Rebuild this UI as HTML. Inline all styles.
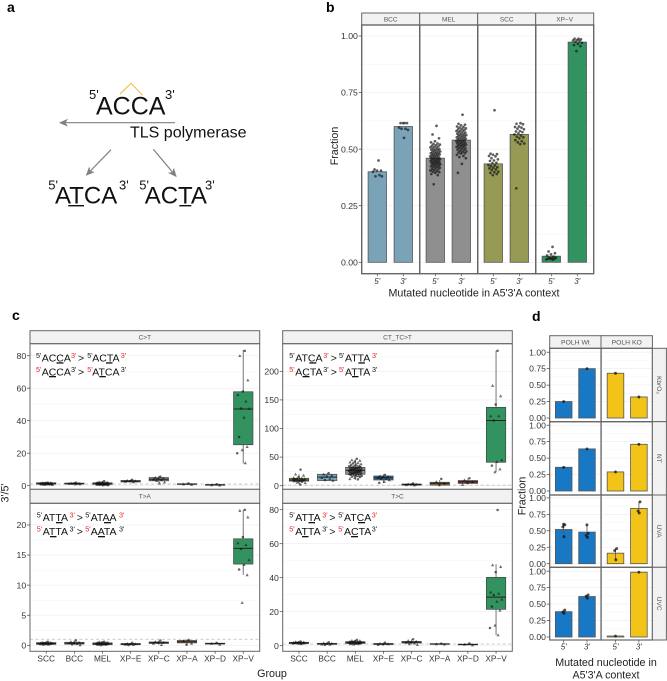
<!DOCTYPE html>
<html lang="en">
<head>
<meta charset="utf-8">
<title>TLS polymerase strand asymmetry figure</title>
<style>
html,body{margin:0;padding:0;background:#fff}
svg{display:block;filter:blur(.35px)}
text{font-family:"Liberation Sans",Arial,sans-serif;fill:#111}
.plabel{font-size:14px;font-weight:bold;fill:#000}
.title{font-size:10.7px;fill:#222}
.an{font-size:10.5px;fill:#111}
.an .s{font-size:7.2px}
.an .r{fill:#e0262e}
.seq{fill:#111}
.sup{font-size:13px}
</style>
</head>
<body>
<svg id="fig" xmlns="http://www.w3.org/2000/svg" width="667" height="681" viewBox="0 0 667 681">
  <defs>
    <marker id="ah" markerWidth="10" markerHeight="8" refX="8" refY="4" orient="auto" markerUnits="userSpaceOnUse"><path d="M0,0 L9,4 L0,8 L2.5,4 Z" fill="#808080"/></marker>
  </defs>
  <rect width="667" height="681" fill="#fff"/>

  <text class="plabel" x="7" y="12">a</text>
  <text class="plabel" x="326" y="12">b</text>
  <text class="plabel" x="12" y="320">c</text>
  <text class="plabel" x="532" y="321">d</text>

  <g>
    <polyline points="120,94 131,83.3 142.7,95.3" fill="none" stroke="#f2b632" stroke-width="1"/>
    <text class="sup" x="89" y="99">5'</text>
    <text class="seq" x="96" y="114.7" font-size="25">ACCA</text>
    <text class="sup" x="165" y="99">3'</text>
    <line x1="175" y1="122.7" x2="60" y2="122.7" stroke="#808080" stroke-width="1.2" marker-end="url(#ah)"/>
    <text x="130" y="137.3" font-size="16">TLS polymerase</text>
    <line x1="111" y1="149.7" x2="86.5" y2="175" stroke="#808080" stroke-width="1.2" marker-end="url(#ah)"/>
    <line x1="153.3" y1="149.3" x2="176" y2="176.3" stroke="#808080" stroke-width="1.2" marker-end="url(#ah)"/>
    <text class="sup" x="48.3" y="189.3">5'</text>
    <text class="seq" x="55" y="203.3" font-size="24">ATCA</text>
    <text class="sup" x="119" y="189.3">3'</text>
    <rect x="68.3" y="205" width="15.7" height="1.4" fill="#111"/>
    <text class="sup" x="139.3" y="189.3">5'</text>
    <text class="seq" x="144.7" y="203.3" font-size="24">ACTA</text>
    <text class="sup" x="205" y="189.3">3'</text>
    <rect x="179.3" y="205" width="12" height="1.4" fill="#111"/>
  </g>

  <g id="chart-b"></g>
  <g id="chart-c"></g>
  <g id="chart-d"></g>

  <g>
    <text class="an" y="361.7"><tspan class="s" x="36" dy="-3.5">5'</tspan><tspan x="41.7" dy="3.5">ACCA</tspan><tspan class="s r" x="71" dy="-3.5">3'</tspan><tspan x="78" dy="3.5">&gt;</tspan><tspan class="s" x="87.3" dy="-3.5">5'</tspan><tspan x="92.3" dy="3.5">ACTA</tspan><tspan class="s r" x="120.7" dy="-3.5">3'</tspan></text>
    <text class="an" y="375.3"><tspan class="s r" x="36" dy="-3.5">5'</tspan><tspan x="41.7" dy="3.5">ACCA</tspan><tspan class="s" x="71" dy="-3.5">3'</tspan><tspan x="78" dy="3.5">&gt;</tspan><tspan class="s r" x="87.3" dy="-3.5">5'</tspan><tspan x="92.3" dy="3.5">ATCA</tspan><tspan class="s" x="120.7" dy="-3.5">3'</tspan></text>
    <rect x="56.5" y="362.3" width="7" height="1.3" fill="#111"/>
    <rect x="106" y="362.3" width="6.5" height="1.3" fill="#111"/>
    <rect x="49" y="376" width="7" height="1.3" fill="#111"/>
    <rect x="99.3" y="376" width="6.5" height="1.3" fill="#111"/>
  </g>
  <g>
    <text class="an" y="361.7"><tspan class="s" x="289.3" dy="-3.5">5'</tspan><tspan x="295.3" dy="3.5">ATCA</tspan><tspan class="s r" x="323.3" dy="-3.5">3'</tspan><tspan x="330.7" dy="3.5">&gt;</tspan><tspan class="s" x="339" dy="-3.5">5'</tspan><tspan x="345" dy="3.5">ATTA</tspan><tspan class="s r" x="372" dy="-3.5">3'</tspan></text>
    <text class="an" y="375.3"><tspan class="s r" x="289.3" dy="-3.5">5'</tspan><tspan x="295.3" dy="3.5">ACTA</tspan><tspan class="s" x="323.3" dy="-3.5">3'</tspan><tspan x="330.7" dy="3.5">&gt;</tspan><tspan class="s r" x="339" dy="-3.5">5'</tspan><tspan x="345" dy="3.5">ATTA</tspan><tspan class="s" x="372" dy="-3.5">3'</tspan></text>
    <rect x="309.3" y="362.3" width="7" height="1.3" fill="#111"/>
    <rect x="358.4" y="362.3" width="6.5" height="1.3" fill="#111"/>
    <rect x="302.5" y="376" width="7" height="1.3" fill="#111"/>
    <rect x="352" y="376" width="6.5" height="1.3" fill="#111"/>
  </g>
  <g>
    <text class="an" y="521"><tspan class="s" x="36.7" dy="-3.5">5'</tspan><tspan x="42.7" dy="3.5">ATTA</tspan><tspan class="s r" x="69.5" dy="-3.5">3'</tspan><tspan x="76.7" dy="3.5">&gt;</tspan><tspan class="s" x="85.3" dy="-3.5">5'</tspan><tspan x="90.7" dy="3.5">ATAA</tspan><tspan class="s r" x="119" dy="-3.5">3'</tspan></text>
    <text class="an" y="535"><tspan class="s r" x="36.7" dy="-3.5">5'</tspan><tspan x="42.7" dy="3.5">ATTA</tspan><tspan class="s" x="69.5" dy="-3.5">3'</tspan><tspan x="76.7" dy="3.5">&gt;</tspan><tspan class="s r" x="85.3" dy="-3.5">5'</tspan><tspan x="90.7" dy="3.5">AATA</tspan><tspan class="s" x="119" dy="-3.5">3'</tspan></text>
    <rect x="56" y="522" width="6.5" height="1.3" fill="#111"/>
    <rect x="104" y="522" width="7" height="1.3" fill="#111"/>
    <rect x="50" y="536" width="6.5" height="1.3" fill="#111"/>
    <rect x="98" y="536" width="7" height="1.3" fill="#111"/>
  </g>
  <g>
    <text class="an" y="521"><tspan class="s" x="289.3" dy="-3.5">5'</tspan><tspan x="295.3" dy="3.5">ATTA</tspan><tspan class="s r" x="322.3" dy="-3.5">3'</tspan><tspan x="329.3" dy="3.5">&gt;</tspan><tspan class="s" x="338.3" dy="-3.5">5'</tspan><tspan x="344" dy="3.5">ATCA</tspan><tspan class="s r" x="371.7" dy="-3.5">3'</tspan></text>
    <text class="an" y="535"><tspan class="s r" x="289.3" dy="-3.5">5'</tspan><tspan x="295.3" dy="3.5">ATTA</tspan><tspan class="s" x="322.3" dy="-3.5">3'</tspan><tspan x="329.3" dy="3.5">&gt;</tspan><tspan class="s r" x="338.3" dy="-3.5">5'</tspan><tspan x="344" dy="3.5">ACTA</tspan><tspan class="s" x="371.7" dy="-3.5">3'</tspan></text>
    <rect x="308.5" y="522" width="6.5" height="1.3" fill="#111"/>
    <rect x="358" y="522" width="7" height="1.3" fill="#111"/>
    <rect x="302" y="536" width="6.5" height="1.3" fill="#111"/>
    <rect x="351" y="536" width="7" height="1.3" fill="#111"/>
  </g>

  <text class="title" transform="translate(338,146) rotate(-90)" text-anchor="middle">Fraction</text>
  <text class="title" x="474" y="296.7" text-anchor="middle">Mutated nucleotide in A5'3'A context</text>
  <text class="title" transform="translate(8.5,493) rotate(-90)" text-anchor="middle">3'/5'</text>
  <text class="title" x="272" y="677" text-anchor="middle">Group</text>
  <text class="title" transform="translate(525.7,496) rotate(-90)" text-anchor="middle">Fraction</text>
  <text class="title" x="606" y="666" text-anchor="middle">Mutated nucleotide in</text>
  <text class="title" x="606" y="678.7" text-anchor="middle">A5'3'A context</text>
</svg>

<script>
// ---------- Panel b data ----------
const bFacets = ['BCC', 'MEL', 'SCC', 'XP\u2212V'];
const bSides = ["5'", "3'"];
const bTicks = [0, 0.25, 0.5, 0.75, 1];
const bTickLabels = ['0.00', '0.25', '0.50', '0.75', '1.00'];
const bMeans = [[0.40, 0.60], [0.46, 0.54], [0.435, 0.565], [0.027, 0.973]];
const bBcc5 = [.45,.41,.405,.405,.40,.385,.38,.38];
const bBcc3 = [.615,.615,.615,.615,.595,.59,.59,.585,.55];
const bMel5 = [.603,.565,.548,.535,.53,.525,.523,.52,.517,.515,.512,.51,.508,.505,.503,.50,.498,.497,.495,.493,.49,.488,.487,.485,.483,.482,.48,.478,.477,.475,.473,.472,.47,.468,.467,.465,.463,.462,.46,.458,.457,.455,.453,.452,.45,.448,.447,.445,.443,.442,.44,.438,.437,.435,.433,.432,.43,.428,.426,.424,.422,.42,.418,.415,.412,.41,.408,.405,.402,.40,.398,.395,.39,.385,.345];
const bMel3 = [.652,.612,.608,.605,.60,.598,.595,.592,.59,.587,.585,.582,.58,.578,.575,.573,.57,.568,.566,.564,.562,.56,.558,.556,.554,.552,.55,.548,.546,.544,.542,.54,.538,.536,.534,.532,.53,.528,.526,.524,.522,.52,.518,.516,.514,.512,.51,.508,.505,.503,.50,.498,.495,.492,.49,.487,.485,.482,.48,.475,.47,.465,.46,.435,.395];
const bScc5 = [.672,.48,.478,.475,.47,.468,.46,.455,.45,.448,.44,.438,.43,.428,.425,.42,.418,.415,.41,.408,.40,.398,.395,.39,.385];
const bScc3 = [.615,.612,.61,.60,.598,.595,.59,.588,.58,.578,.575,.57,.565,.56,.555,.552,.548,.54,.535,.53,.525,.522,.327];
const bXpv5 = [.068,.048,.04,.035,.03,.025,.02,.02,.018,.016,.015,.015,.013,.012];
const bXpv3 = [.988,.988,.985,.982,.98,.978,.975,.97,.965,.96,.955,.933];
const bColors = ['#7aa3b8', '#8f8f8f', '#979a55', '#339360'];

// ---------- Panel c data ----------
const cGroups = ['SCC', 'BCC', 'MEL', 'XP\u2212E', 'XP\u2212C', 'XP\u2212A', 'XP\u2212D', 'XP\u2212V'];
const cColors = ['#979a55', '#7aa3b8', '#8f8f8f', '#2f6f9f', '#7d8a96', '#9a6a30', '#8b2f2a', '#339360'];

const cTitles = ['C>T', 'CT_TC>T', 'T>A', 'T>C'];
const ctTicks = [0, 20, 40, 60, 80];
const ctcTicks = [0, 50, 100, 150, 200];
const taTicks = [0, 5, 10, 15, 20];
const tcTicks = [0, 20, 40, 60, 80];

// box stats: q1, median, q3, whisker low, whisker high
const ctBoxes = [[.9,1.3,1.8,.5,2.4],[1,1.3,1.6,.8,2],[.8,1.2,1.8,.3,2.8],[2.3,2.8,3.2,2,3.8],[3,4,5,1.5,6],[.8,1,1.2,.6,1.5],[.3,.5,.7,.2,1],[25.2,47.2,57.8,13.7,83.5]];
const ctcBoxes = [[8,10,13,2,20],[9,15,20,8,22],[20,27,32,10,46],[10,14,17,5,20],[1,2,3,.5,4],[1,4,6,0,10],[4,7,9,2,13],[41,114,137,24,236]];
const taBoxes = [[.15,.3,.45,.05,.6],[.2,.35,.5,.05,.8],[.1,.25,.4,0,.6],[.1,.2,.3,0,.4],[.3,.45,.55,.1,.8],[.4,.6,.8,.1,.9],[.2,.3,.35,.15,.4],[13.5,16.1,17.7,11.7,22.5]];
const tcBoxes = [[1.3,1.6,2,1,2.5],[.8,1.1,1.4,.5,2],[1.3,1.8,2.4,.8,3.4],[.7,1,1.3,.4,1.8],[1.6,2,2.5,.8,3.8],[.8,1,1.2,.7,1.3],[.5,.7,.9,.3,1.4],[21.4,28.6,40.2,6.3,48]];

const ctPoints = [
  [1.9,1.8,1.8,1.7,1.6,1.5,1.5,1.4,1.4,1.3,1.3,1.2,1.2,1.1,1,1,.9,.9,.8,.7,.6],
  [1.9,1.6,1.5,1.4,1.3,1.3,1.2,1.1,1],
  [2.8,2.3,2.1,2,1.9,1.8,1.8,1.7,1.6,1.5,1.5,1.4,1.4,1.3,1.3,1.2,1.2,1.1,1.1,1,1,.9,.9,.8,.8,.7,.7,.6,.5,.4],
  [3.7,3.2,3,2.8,2.6,2.3],
  [5.6,5,4.6,4.2,4,3.6,3,2.2,1.5],
  [1.4,1,.7],
  [.9,.5,.3],
  [83,80,65,58,56,52,47.5,47.5,42,30,24,22,20,14]
];
const ctcPoints = [
  [28,20,18,15,14,13,12,12,11,11,10,10,10,9,9,9,8,8,7,6,5,2],
  [22,20,18,16,14,12,10,9],
  [47,45,44,42,41,40,39,38,37,36,35,35,34,34,33,33,32,32,31,31,30,30,30,29,29,28,28,28,27,27,27,26,26,26,25,25,25,24,24,24,23,23,23,22,22,22,21,21,20,20,19,19,18,18,17,17,16,15,14,12,11],
  [19,17,16,15,14,13,12,10,7,5],
  [4,3,2.5,2,1.5,1],
  [12,7,4,1],
  [13,10,7,5,2],
  [236,175,157,142,122,122,114,45,42,35,29,24]
];
const taPoints = [
  [.6,.5,.45,.42,.4,.38,.35,.32,.3,.28,.25,.22,.2,.15,.12],
  [.8,.6,.5,.42,.35,.25,.15,.05],
  [.6,.55,.5,.48,.45,.42,.4,.38,.35,.32,.3,.28,.25,.22,.2,.18,.15,.12,.1,.05],
  [.4,.3,.25,.2,.15,.1,.02],
  [.8,.6,.5,.45,.3,.1],
  [.9,.75,.3,.1],
  [.4,.3,.15],
  [22.5,22.4,21.3,18,17,16.7,16,14.2,13.4,12.6,11.7,7.1]
];
const tcPoints = [
  [2.5,2.3,2.1,2,1.9,1.8,1.7,1.6,1.5,1.5,1.4,1.3,1.2,1.1],
  [2,1.6,1.3,1.1,.9,.7,.5],
  [3.4,3,2.9,2.7,2.5,2.4,2.2,2.1,2,1.9,1.8,1.7,1.6,1.5,1.4,1.3,1.2,1.1,1,.9],
  [1.8,1.3,1,.8,.6],
  [3.8,3,2.6,2.2,1.9,1.5,1,.6],
  [1.2,1,.9],
  [1.4,.8,.4],
  [79.8,47.5,46.5,43.3,31.5,30.8,29.8,27.3,26,23,20.8,12,10.4,6.3]
];

// ---------- Panel d data ----------
const dCols = ['POLH Wt', 'POLH KO'];
const dRows = ['KbrO\u2083', 'NT', 'UVA', 'UVC'];
const dSides = ["5'", "3'"];
const dTicks = [0, 0.25, 0.5, 0.75, 1];
const dTickLabels = ['0.00', '0.25', '0.50', '0.75', '1.00'];
const dMeans = [
  [[.25,.75],[.68,.32]],
  [[.36,.64],[.29,.71]],
  [[.52,.48],[.16,.84]],
  [[.385,.615],[.015,.985]]
];
const dPoints = [
  [[[.25],[.75]],[[.68],[.32]]],
  [[[.36],[.64]],[[.29],[.71]]],
  [[[.41,.56,.59,.60],[.40,.43,.46,.59]],[[.06,.20,.23],[.77,.80,.94]]],
  [[[.36,.38,.41],[.59,.62,.64]],[[.015],[.985]]]
];
const dColors = ['#1878c4', '#f2c417'];

// ---------- Helpers ----------
const NS = 'http://www.w3.org/2000/svg';
function mk(tag, attrs, parent) {
  const e = document.createElementNS(NS, tag);
  for (const k in attrs) e.setAttribute(k, attrs[k]);
  parent.appendChild(e);
  return e;
}
function yScale(px0, pxPerUnit) { return v => px0 - v * pxPerUnit; }
function jitter(i, halfWidth) { return (((i + 1) * 0.618034) % 1 - 0.5) * 2 * halfWidth; }

function gridlines(g, ticks, y, x0, x1, top) {
  const step = ticks[1] - ticks[0];
  ticks.forEach(t => {
    const major = mk('line', {x1: x0, x2: x1, y1: y(t), y2: y(t), stroke: '#ececec', 'stroke-width': .6}, g);
    
    
    if (y(t + step / 2) > top) {
      const minor = mk('line', {x1: x0, x2: x1, y1: y(t + step / 2), y2: y(t + step / 2), stroke: '#f3f3f3', 'stroke-width': .4}, g);
      
      
    }
  });
}
function yAxis(g, ticks, labels, y, xLeft, size) {
  ticks.forEach((t, i) => {
    const tick = mk('line', {x1: xLeft - 3, x2: xLeft, y1: y(t), y2: y(t), stroke: '#444', 'stroke-width': .7}, g);
    
    
    const lab = mk('text', {x: xLeft - 3.8, y: y(t) + size * 0.36, 'text-anchor': 'end', 'font-size': size, style: 'fill:#333'}, g);
    lab.textContent = labels[i];
    
    
  });
}
function strip(g, x, y, w, h, label, size) {
  const r = mk('rect', {x: x, y: y, width: w, height: h, fill: '#f2f2f2', stroke: '#666', 'stroke-width': 1}, g);
  
  
  const t = mk('text', {x: x + w / 2, y: y + h / 2 + size * 0.36, 'text-anchor': 'middle', 'font-size': size, style: 'fill:#555'}, g);
  t.textContent = label;
  
  
}
function border(g, x, y, w, h, sw) {
  const r = mk('rect', {x: x, y: y, width: w, height: h, fill: 'none', stroke: '#666', 'stroke-width': sw}, g);
  
  
}

// ---------- Draw panel b ----------
(function () {
  const g = document.getElementById('chart-b');
  const y = yScale(262.3, 226.3);
  const left = 361.7, facetW = 58, top = 25, bottom = 273.7;
  const xb = (f, s) => left + f * facetW + 15.6 + s * 26;
  const pts = [[bBcc5, bBcc3], [bMel5, bMel3], [bScc5, bScc3], [bXpv5, bXpv3]];
  bFacets.forEach((name, f) => {
    const px = left + f * facetW;
    strip(g, px, 13, facetW, 12, name, 6.5);
    gridlines(g, bTicks, y, px, px + facetW, top);
    bMeans[f].forEach((v, s) => {
      const bar = mk('rect', {x: xb(f, s) - 9.2, y: y(v), width: 18.4, height: y(0) - y(v), fill: bColors[f], stroke: '#555', 'stroke-width': .8}, g);
      
      
      pts[f][s].forEach((val, i) => {
        const dot = mk('circle', {cx: xb(f, s) + jitter(i, 5.2), cy: y(val), r: 1.35, fill: '#111', 'fill-opacity': .68}, g);
        
        
      });
      const tick = mk('line', {x1: xb(f, s), x2: xb(f, s), y1: bottom, y2: bottom + 2.5, stroke: '#444', 'stroke-width': .7}, g);
      
      
      const lab = mk('text', {x: xb(f, s), y: 284, 'text-anchor': 'middle', 'font-size': 8, 'font-style': 'italic', style: 'fill:#333'}, g);
      lab.textContent = bSides[s];
      
      
    });
    border(g, px, top, facetW, bottom - top, 1.4);
  });
  yAxis(g, bTicks, bTickLabels, y, left, 8.7);
})();

// ---------- Draw panel c ----------
(function () {
  const g = document.getElementById('chart-c');
  const panels = [
    {x0: 30, w: 229.7, top: 343.7, bottom: 489.3, stripY: 330.7, y: yScale(485.7, 1.625), ticks: ctTicks, boxes: ctBoxes, pts: ctPoints, first: 46.2},
    {x0: 282.7, w: 229.6, top: 343.7, bottom: 489.3, stripY: 330.7, y: yScale(485.7, 0.572), ticks: ctcTicks, boxes: ctcBoxes, pts: ctcPoints, first: 299},
    {x0: 30, w: 229.7, top: 503.3, bottom: 651.3, stripY: 489.3, y: yScale(645.3, 6.017), ticks: taTicks, boxes: taBoxes, pts: taPoints, first: 46.2},
    {x0: 282.7, w: 229.6, top: 503.3, bottom: 651.3, stripY: 489.3, y: yScale(645.7, 1.7), ticks: tcTicks, boxes: tcBoxes, pts: tcPoints, first: 299}
  ];
  panels.forEach((p, k) => {
    const x = i => p.first + i * 28.15;
    strip(g, p.x0, p.stripY, p.w, p.top - p.stripY, cTitles[k], 6.5);
    gridlines(g, p.ticks, p.y, p.x0, p.x0 + p.w, p.top);
    const ref = mk('line', {x1: p.x0, x2: p.x0 + p.w, y1: p.y(1), y2: p.y(1), stroke: '#bbb', 'stroke-width': .8, 'stroke-dasharray': '3 2.5'}, g);
    
    
    p.boxes.forEach((b, i) => {
      const whisk = mk('line', {x1: x(i), x2: x(i), y1: p.y(b[3]), y2: p.y(b[4]), stroke: '#777', 'stroke-width': 1}, g);
      
      
      const box = mk('rect', {x: x(i) - 9.7, y: p.y(b[2]), width: 19.4, height: Math.max(.5, p.y(b[0]) - p.y(b[2])), fill: cColors[i], stroke: '#444', 'stroke-width': .7}, g);
      
      
      const med = mk('line', {x1: x(i) - 9.7, x2: x(i) + 9.7, y1: p.y(b[1]), y2: p.y(b[1]), stroke: '#222', 'stroke-width': 1}, g);
      
      
      p.pts[i].forEach((v, j) => {
        const cx = x(i) + jitter(j, 6.5), cy = p.y(v);
        if (j % 3 === 0) {
          const c = mk('circle', {cx: cx, cy: cy, r: 1.25, fill: '#111', 'fill-opacity': .65}, g);
          
          
        } else {
          const tri = mk('polygon', {points: (cx - 1.6) + ',' + (cy + 1.3) + ' ' + (cx + 1.6) + ',' + (cy + 1.3) + ' ' + cx + ',' + (cy - 1.6), fill: '#111', 'fill-opacity': .6}, g);
          
          
        }
      });
    });
    border(g, p.x0, p.top, p.w, p.bottom - p.top, 1);
    yAxis(g, p.ticks, p.ticks.map(String), p.y, p.x0, 8.7);
    if (k >= 2) {
      cGroups.forEach((name, i) => {
        const tick = mk('line', {x1: x(i), x2: x(i), y1: p.bottom, y2: p.bottom + 2.5, stroke: '#444', 'stroke-width': .7}, g);
        
        
        const lab = mk('text', {x: x(i), y: 661.7, 'text-anchor': 'middle', 'font-size': 8.3, style: 'fill:#333'}, g);
        lab.textContent = name;
        
        
      });
    }
  });
})();

// ---------- Draw panel d ----------
(function () {
  const g = document.getElementById('chart-d');
  const colX = [549.7, 601];
  const colW = 51.4;
  const rowTop = [348.3, 421.7, 495, 567.3];
  const rowBottom = [421.7, 495, 567.3, 640];
  const rowZero = [418, 491, 563.7, 637];
  const barCenter = [[563.7, 587], [615.5, 638.9]];
  dCols.forEach((name, c) => {
    strip(g, colX[c], 335.7, colW, 12.6, name, 6.8);
  });
  dRows.forEach((rowName, r) => {
    const y = yScale(rowZero[r], 65.8);
    dCols.forEach((colName, c) => {
      gridlines(g, dTicks, y, colX[c], colX[c] + colW, rowTop[r]);
      dMeans[r][c].forEach((v, s) => {
        const bar = mk('rect', {x: barCenter[c][s] - 8.3, y: y(v), width: 16.6, height: y(0) - y(v), fill: dColors[c], stroke: '#555', 'stroke-width': .8}, g);
        
        
        const vals = dPoints[r][c][s];
        if (vals.length > 1) {
          const err = mk('line', {x1: barCenter[c][s], x2: barCenter[c][s], y1: y(Math.min.apply(null, vals)), y2: y(Math.max.apply(null, vals)), stroke: '#555', 'stroke-width': .8}, g);
          
          
        }
        vals.forEach((val, i) => {
          const dot = mk('circle', {cx: barCenter[c][s] + (vals.length > 1 ? jitter(i, 1.6) : 0), cy: y(val), r: 1.45, fill: '#111', 'fill-opacity': .75}, g);
          
          
        });
        if (r === 3) {
          const tick = mk('line', {x1: barCenter[c][s], x2: barCenter[c][s], y1: 640, y2: 642.5, stroke: '#444', 'stroke-width': .7}, g);
          
          
          const lab = mk('text', {x: barCenter[c][s], y: 649.5, 'text-anchor': 'middle', 'font-size': 8, 'font-style': 'italic', style: 'fill:#333'}, g);
          lab.textContent = dSides[s];
          
          
        }
      });
      border(g, colX[c], rowTop[r], colW, rowBottom[r] - rowTop[r], 1.2);
    });
    yAxis(g, dTicks, dTickLabels, y, colX[0], 8.6);
    const sr = mk('rect', {x: 652.4, y: rowTop[r], width: 14, height: rowBottom[r] - rowTop[r], fill: '#f2f2f2', stroke: '#666', 'stroke-width': 1}, g);
    
    
    const cy = (rowTop[r] + rowBottom[r]) / 2;
    const st = mk('text', {transform: 'translate(657,' + cy + ') rotate(90)', 'text-anchor': 'middle', 'font-size': 6.5, style: 'fill:#555'}, g);
    st.textContent = rowName;
    
    
  });
})();
</script>
</body>
</html>
